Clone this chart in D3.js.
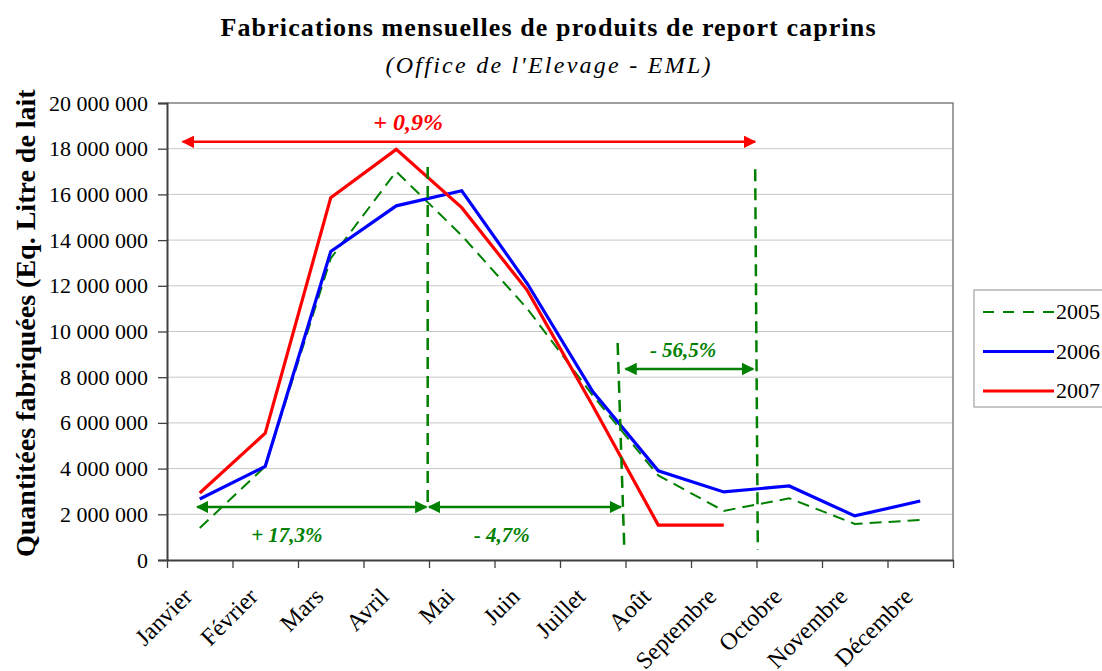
<!DOCTYPE html>
<html>
<head>
<meta charset="utf-8">
<script src="https://cdn.jsdelivr.net/npm/d3@7"></script>
<style>
  body { margin: 0; background: #fff; }
</style>
</head>
<body>
<svg id="chart" width="1102" height="671"></svg>
<script>
"use strict";

// data
const months = ["Janvier", "Février", "Mars", "Avril", "Mai", "Juin", "Juillet", "Août", "Septembre", "Octobre", "Novembre", "Décembre"];
const v2005 = [1400000, 4100000, 13200000, 17000000, 14200000, 11000000, 7200000, 3700000, 2150000, 2700000, 1580000, 1750000];
const v2006 = [2670000, 4100000, 13500000, 15500000, 16160000, 12100000, 7370000, 3900000, 2980000, 3240000, 1930000, 2580000];
const v2007 = [2930000, 5550000, 15860000, 17970000, 15420000, 11800000, 6750000, 1530000, 1530000];
const yTicks = [0, 2000000, 4000000, 6000000, 8000000, 10000000, 12000000, 14000000, 16000000, 18000000, 20000000];

// annotations, x given in month index units (0 = left edge of janvier)
const arrowFrom = [0.24, 0.46, 4.0, 7.0];
const arrowTo = [8.98, 3.96, 6.93, 8.95];
const arrowY = [18300000, 2320000, 2320000, 8360000];
const arrowText = ["+ 0,9%", "+ 17,3%", "- 4,7%", "- 56,5%"];
const arrowTextX = [3.68, 1.83, 5.11, 7.88];
const arrowTextY = [18800000, 800000, 800000, 8900000];
const arrowColor = ["#ff0000", "#008000", "#008000", "#008000"];
const vlineX = [[3.98, 3.98], [6.88, 6.98], [8.98, 9.02]];
const vlineY = [[17200000, 2300000], [9500000, 650000], [17100000, 450000]];

const series = [
  {name: "2005", values: v2005, color: "#008000", width: 2, dash: "12,7"},
  {name: "2006", values: v2006, color: "#0000ff", width: 3.2, dash: null},
  {name: "2007", values: v2007, color: "#ff0000", width: 3.2, dash: null}
];

const FONT = "Liberation Serif";

const svg = d3.select("#chart");
const margin = {top: 103, right: 149, bottom: 111, left: 167},
  width = 1102 - margin.left - margin.right,
  height = 671 - margin.top - margin.bottom;

const fr = d3.formatLocale({decimal: ",", thousands: " ", grouping: [3], currency: ["", ""]});
const fmt = fr.format(",d");

const x = d3.scaleBand().domain(months).range([0, width]);
const xi = d3.scaleLinear().domain([0, months.length]).range([0, width]);
const y = d3.scaleLinear().domain([0, 20000000]).range([height, 0]);

// titles
svg.append("text")
  .attr("x", 548).attr("y", 36)
  .attr("text-anchor", "middle")
  .style("font-family", FONT)
  .attr("font-size", 26).attr("font-weight", "bold")
  .attr("textLength", 655).attr("lengthAdjust", "spacing")
  .text("Fabrications mensuelles de produits de report caprins");

svg.append("text")
  .attr("x", 548).attr("y", 73)
  .attr("text-anchor", "middle")
  .style("font-family", FONT)
  .attr("font-size", 24).attr("font-style", "italic")
  .attr("textLength", 325).attr("lengthAdjust", "spacing")
  .text("(Office de l'Elevage - EML)");

const g = svg.append("g").attr("transform", "translate(" + margin.left + "," + margin.top + ")");

// grid
g.append("g")
  .selectAll("line")
  .data(yTicks.slice(1, -1))
  .enter().append("line")
  .attr("x1", 0).attr("x2", width)
  .attr("y1", d => y(d)).attr("y2", d => y(d))
  .attr("stroke", "#c8c8c8").attr("stroke-width", 1);

// plot area border (top and right)
g.append("path")
  .attr("d", "M0," + y(20000000) + "H" + width + "V" + height)
  .attr("fill", "none").attr("stroke", "#808080").attr("stroke-width", 1.5);

// y axis
let ya = g.append("g")
  .call(d3.axisLeft(y).tickValues(yTicks).tickFormat(fmt).tickSize(9).tickPadding(10));
ya.select(".domain").attr("stroke", "#404040").attr("stroke-width", 2);
ya.selectAll(".tick line").attr("stroke", "#404040").attr("stroke-width", 1.3);
ya.selectAll("text").attr("font-size", 22).attr("fill", "#000").style("font-family", FONT);

// x axis, ticks at band boundaries
let xa = g.append("g")
  .attr("transform", "translate(0," + height + ")")
  .call(d3.axisBottom(xi).tickValues(d3.range(months.length + 1)).tickFormat("").tickSize(8).tickSizeOuter(0));
xa.select(".domain").attr("stroke", "#404040").attr("stroke-width", 2);
xa.selectAll(".tick line").attr("stroke", "#404040").attr("stroke-width", 1.3);

g.append("g")
  .selectAll("text")
  .data(months)
  .enter().append("text")
  .attr("transform", d => "translate(" + (x(d) + x.bandwidth() / 2 - 6) + "," + (height + 38) + ") rotate(-45)")
  .attr("text-anchor", "end")
  .style("font-family", FONT)
  .attr("font-size", 24)
  .text(d => d);

// y axis title
svg.append("text")
  .attr("transform", "translate(35,557) rotate(-90)")
  .attr("text-anchor", "start")
  .style("font-family", FONT)
  .attr("font-size", 28).attr("font-weight", "bold")
  .text("Quantitées fabriquées (Eq. Litre de lait");

// lines
const line = d3.line()
  .x((d, i) => x(months[i]) + x.bandwidth() / 2)
  .y(d => y(d));

g.selectAll(".serie")
  .data(series)
  .enter().append("path")
  .attr("class", "serie")
  .attr("d", d => line(d.values))
  .attr("fill", "none")
  .attr("stroke", d => d.color)
  .attr("stroke-width", d => d.width)
  .attr("stroke-dasharray", d => d.dash)
  .attr("stroke-linejoin", "miter");

// annotations
const defs = svg.append("defs");
["#ff0000", "#008000"].forEach((c, k) => {
  defs.append("marker")
    .attr("id", "arr" + k)
    .attr("viewBox", "0 0 10 10")
    .attr("refX", 9).attr("refY", 5)
    .attr("markerWidth", 5).attr("markerHeight", 5)
    .attr("orient", "auto-start-reverse")
    .append("path").attr("d", "M0,0L10,5L0,10z").attr("fill", c);
});

g.selectAll(".vline")
  .data(vlineX)
  .enter().append("line")
  .attr("class", "vline")
  .attr("x1", d => xi(d[0])).attr("x2", d => xi(d[1]))
  .attr("y1", (d, i) => y(vlineY[i][0])).attr("y2", (d, i) => y(vlineY[i][1]))
  .attr("stroke", "#008000").attr("stroke-width", 2.5)
  .attr("stroke-dasharray", "12,7");

g.selectAll(".arrow")
  .data(arrowFrom)
  .enter().append("line")
  .attr("class", "arrow")
  .attr("x1", d => xi(d)).attr("x2", (d, i) => xi(arrowTo[i]))
  .attr("y1", (d, i) => y(arrowY[i])).attr("y2", (d, i) => y(arrowY[i]))
  .attr("stroke", (d, i) => arrowColor[i])
  .attr("stroke-width", 2.5)
  .attr("marker-start", (d, i) => "url(#arr" + (i === 0 ? 0 : 1) + ")")
  .attr("marker-end", (d, i) => "url(#arr" + (i === 0 ? 0 : 1) + ")");

g.selectAll(".alabel")
  .data(arrowText)
  .enter().append("text")
  .attr("class", "alabel")
  .attr("x", (d, i) => xi(arrowTextX[i]))
  .attr("y", (d, i) => y(arrowTextY[i]))
  .attr("text-anchor", "middle")
  .style("font-family", FONT)
  .attr("font-size", (d, i) => i === 0 ? 24 : 21)
  .attr("font-weight", "bold").attr("font-style", "italic")
  .attr("fill", (d, i) => arrowColor[i])
  .text(d => d);

// legend
const lg = svg.append("g").attr("transform", "translate(974,290)");
lg.append("rect")
  .attr("width", 140).attr("height", 117)
  .attr("fill", "#fff").attr("stroke", "#a0a0a0").attr("stroke-width", 1.2);
series.forEach((s, i) => {
  let yy = 22 + i * 39.5;
  lg.append("line")
    .attr("x1", 9).attr("x2", 80).attr("y1", yy).attr("y2", yy)
    .attr("stroke", s.color).attr("stroke-width", s.width)
    .attr("stroke-dasharray", s.dash ? "11,9" : null);
  lg.append("text")
    .attr("x", 82).attr("y", yy + 7)
    .style("font-family", FONT)
    .attr("font-size", 22)
    .text(s.name);
});
</script>
</body>
</html>
